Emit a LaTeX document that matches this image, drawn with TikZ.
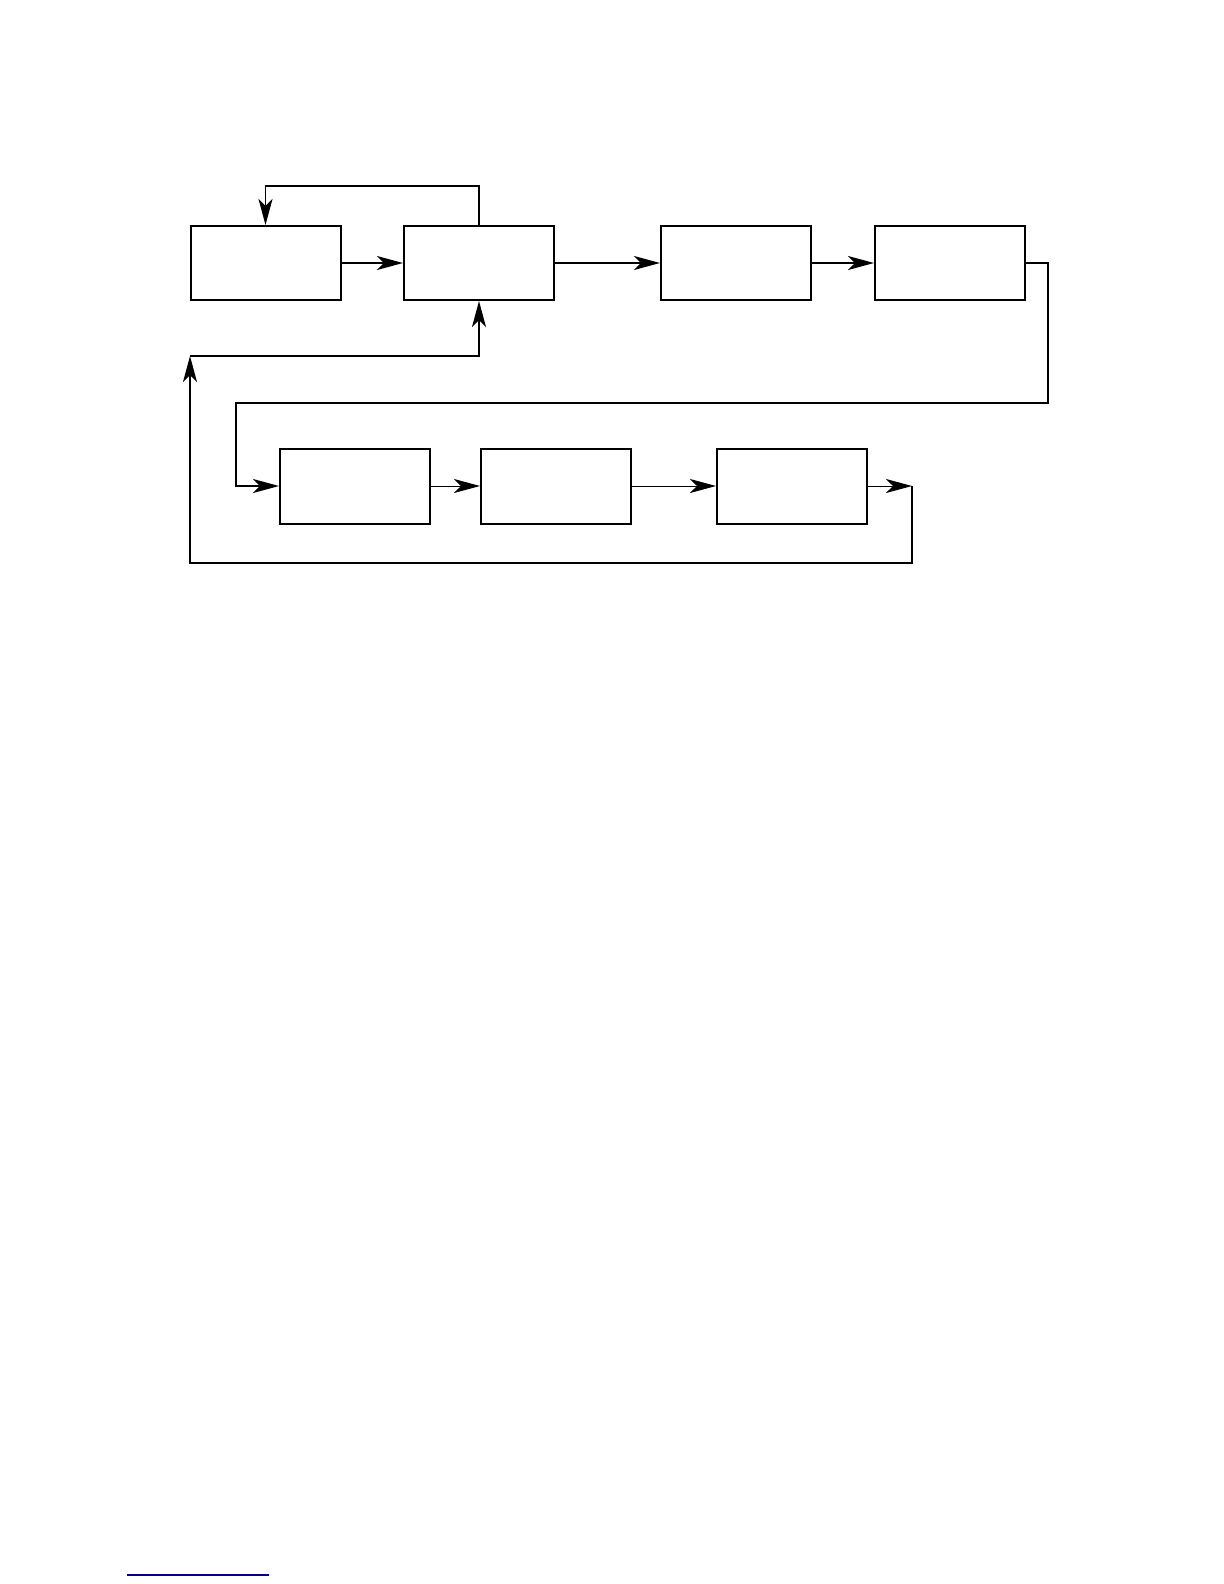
\documentclass[tikz,border=0pt]{standalone}
\usetikzlibrary{arrows.meta}
\begin{document}
\begin{tikzpicture}[x=0.5pt,y=-0.5pt,
    blok/.style={draw,line width=1pt,minimum width=75pt,minimum height=37pt,inner sep=0pt},
    pijl/.style={-{Stealth[length=13pt,width=7pt,inset=3.5pt]},line width=0.8pt},
    dun/.style={line width=0.5pt}]
\useasboundingbox (0,0) rectangle (1224,1584);
% bovenste rij
\node[blok] (b1) at (265.5,263) {};
\node[blok] (b2) at (479,263) {};
\node[blok] (b3) at (736,263) {};
\node[blok] (b4) at (950,263) {};
% onderste rij
\node[blok,minimum height=37.5pt] (b5) at (355,486) {};
\node[blok,minimum height=37.5pt] (b6) at (556,486) {};
\node[blok,minimum height=37.5pt] (b7) at (792,486) {};
\coordinate (eind) at (912,486);
\coordinate (terug) at (190,356);
\draw[pijl] (b1) -- (b2);
\draw[pijl] (b2) -- (b3);
\draw[pijl] (b3) -- (b4);
\draw[pijl] (b2.north) -- (b2.north |- 0,186) -| (b1.north);
\draw[pijl] (b4.east) -- (1048,263) |- (236,403) |- (b5.west);
\draw[pijl,dun] (b5) -- (b6);
\draw[pijl,dun] (b6) -- (b7);
\draw[pijl,dun] (b7) -- (eind);
\draw[pijl] (eind) |- (190,563) -- (terug);
\draw[pijl] (terug) -| (b2.south);
% voetnootlijn
\draw[line width=0.6pt,color={rgb,255:red,0;green,0;blue,140}] (127,1575) -- (269,1575);
\end{tikzpicture}
\end{document}
